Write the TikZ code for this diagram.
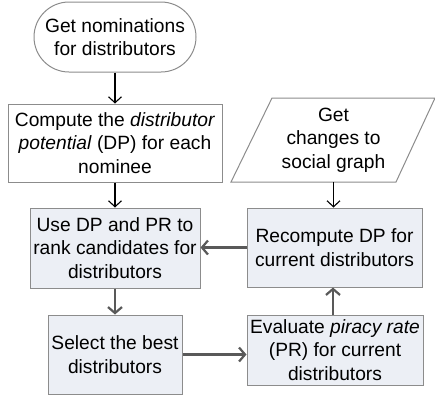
\documentclass[tikz,border=0pt]{standalone}
\usepackage{fontspec}
\setmainfont{Liberation Sans}
\usetikzlibrary{arrows.meta}
\definecolor{boxfill}{HTML}{ECEFF5}
\definecolor{boxline}{HTML}{8C8C8C}
\definecolor{darkarrow}{HTML}{595959}
\begin{document}
\begin{tikzpicture}[x=1pt,y=-1pt,
  every node/.style={font=\fontsize{19.2}{23.5}\selectfont, align=center, inner sep=0pt},
  plainbox/.style={draw=boxline, line width=1pt, fill=white},
  bluebox/.style={draw=boxline, line width=1pt, fill=boxfill},
  thinarrow/.style={draw=black, line width=1.1pt, -{Straight Barb[length=6pt,width=13pt,line width=1.1pt]}},
  thickarrow/.style={draw=darkarrow, line width=2.4pt, -{Straight Barb[length=6pt,width=14pt,line width=2.2pt]}}
]
\useasboundingbox (0,0) rectangle (435,397);
\node[plainbox, rounded corners=35pt, minimum width=162pt, minimum height=70pt] (start) at (115,37) {Get nominations\\for distributors};
\node[plainbox, minimum width=214pt, minimum height=78pt] (compute) at (115,143) {Compute the \textit{distributor}\\\textit{potential} (DP) for each\\nominee};
\node[bluebox, minimum width=170pt, minimum height=80pt] (use) at (115,248) {Use DP and PR to\\rank candidates for\\distributors};
\node[bluebox, minimum width=134pt, minimum height=79pt] (select) at (115,354.5) {Select the best\\distributors};
\node[bluebox, minimum width=176pt, minimum height=70pt] (evaluate) at (335,350) {Evaluate \textit{piracy rate}\\(PR) for current\\distributors};
\node[bluebox, minimum width=175pt, minimum height=79pt] (recompute) at (334.5,247.5) {Recompute DP for\\current distributors};
\draw[draw=boxline, line width=1pt, fill=white] (272,98) -- (435,98) -- (396,182) -- (231,182) -- cycle;
\node (getchanges) at (333.5,140) {Get\\changes to\\social graph};
\coordinate (parabottom) at (333.5,182);
\draw[thinarrow] (start.south) -- (compute.north);
\draw[thinarrow] (compute.south) -- (use.north);
\draw[thinarrow] (parabottom) -- (parabottom |- recompute.north);
\draw[thickarrow] (use.south) -- (select.north);
\draw[thickarrow] (select.east) -- (select.east -| evaluate.west);
\draw[thickarrow] (evaluate.north -| 333,0) -- (recompute.south -| 333,0);
\draw[thickarrow] (recompute.west) -- (recompute.west -| use.east);
\end{tikzpicture}
\end{document}
